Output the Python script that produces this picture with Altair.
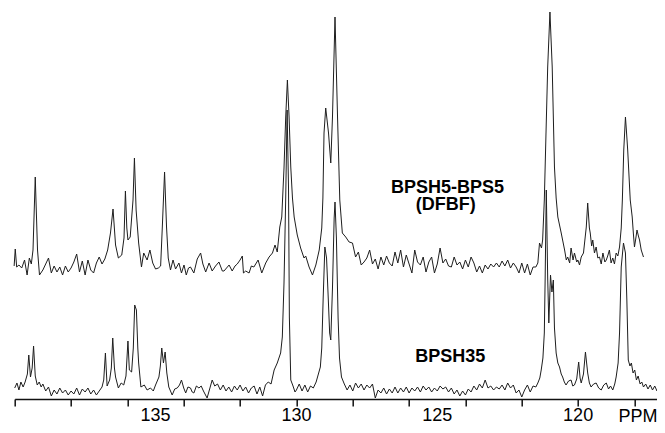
import altair as alt
import pandas as pd

# x-axis ticks (ppm) and the ones that carry a label
PPM_TICKS = list(range(118, 141))
LABELLED_TICKS = [135, 130, 125, 120]

# 13C spectrum of BPSH35 (ppm, intensity above its own baseline, a.u.)
BPSH35 = [
    (140.00, 0), (139.92, 5), (139.85, -2), (139.78, 6), (139.70, 1), (139.63, 6), (139.55, 14), (139.50, 33),
    (139.44, 11), (139.38, 20), (139.33, 42), (139.27, 12), (139.20, 3), (139.13, 6), (139.06, 1), (139.00, 4),
    (138.90, -3), (138.80, 1), (138.70, -8), (138.60, -2), (138.50, -6), (138.40, 0), (138.30, -5), (138.20, -2),
    (138.10, -7), (138.00, -3), (137.90, -6), (137.80, 0), (137.70, -7), (137.60, -1), (137.50, -4), (137.40, 0),
    (137.30, -6), (137.20, -2), (137.10, -7), (137.00, -3), (136.90, 1), (136.84, 8), (136.78, 35), (136.72, 2),
    (136.63, 8), (136.57, 20), (136.52, 50), (136.46, 20), (136.42, 11), (136.32, 0), (136.22, 5), (136.13, 3),
    (136.05, 12), (135.98, 47), (135.93, 18), (135.85, 16), (135.79, 40), (135.74, 83), (135.68, 78), (135.63, 40),
    (135.60, 25), (135.52, 1), (135.40, 3), (135.30, -2), (135.18, 0), (135.08, -3), (135.00, 3), (134.88, 11),
    (134.83, 22), (134.78, 40), (134.72, 25), (134.66, 36), (134.60, 15), (134.53, 1), (134.41, -7), (134.32, -1),
    (134.23, 0), (134.15, 3), (134.08, 8), (134.00, 0), (133.93, -5), (133.85, 1), (133.76, 0), (133.70, -4),
    (133.64, -5), (133.55, 2), (133.46, 0), (133.38, 2), (133.30, -3), (133.17, -10), (133.08, -1), (132.99, 8),
    (132.90, 2), (132.80, 4), (132.70, -2), (132.60, 3), (132.50, -3), (132.40, 1), (132.30, -4), (132.20, 2),
    (132.10, -2), (132.00, 3), (131.90, -3), (131.80, 1), (131.70, -5), (131.60, 0), (131.50, 2), (131.40, -6),
    (131.30, 1), (131.20, -8), (131.10, 3), (131.00, 6), (130.90, 4), (130.79, 18), (130.68, 25), (130.56, 35),
    (130.50, 51), (130.44, 105), (130.38, 190), (130.33, 278), (130.28, 200), (130.25, 71), (130.20, 8), (130.12, 2),
    (130.05, -4), (130.00, -2), (129.90, 4), (129.80, -3), (129.70, 3), (129.60, -4), (129.50, 2), (129.40, 0),
    (129.30, 6), (129.22, 14), (129.15, 21), (129.10, 40), (129.05, 90), (128.99, 141), (128.93, 130), (128.87, 90),
    (128.82, 55), (128.78, 48), (128.72, 100), (128.66, 170), (128.63, 186), (128.58, 150), (128.52, 70), (128.47, 30),
    (128.40, 11), (128.30, 4), (128.20, -2), (128.10, 3), (128.00, -3), (127.90, 5), (127.80, 0), (127.70, 4),
    (127.60, -2), (127.50, 3), (127.40, 0), (127.30, 4), (127.20, -10), (127.10, -2), (127.00, -5), (126.90, 0),
    (126.80, -6), (126.70, -1), (126.60, -5), (126.50, 1), (126.40, -5), (126.30, 0), (126.20, -4), (126.10, 1),
    (126.00, -5), (125.90, 0), (125.80, -3), (125.70, 1), (125.60, -4), (125.50, 2), (125.40, -2), (125.30, 1),
    (125.20, -4), (125.10, 0), (125.00, -3), (124.90, 2), (124.80, -1), (124.70, 1), (124.60, -4), (124.50, 0),
    (124.40, -6), (124.30, -2), (124.20, -8), (124.10, -3), (124.00, -7), (123.90, -1), (123.80, -4), (123.70, 2),
    (123.60, -2), (123.50, 4), (123.40, 0), (123.30, 8), (123.20, 0), (123.10, 2), (123.00, -2), (122.90, 1),
    (122.80, -1), (122.70, 3), (122.60, -2), (122.50, 5), (122.40, 0), (122.30, 3), (122.20, -5), (122.10, -2),
    (122.00, -9), (121.90, -2), (121.80, 3), (121.70, -4), (121.60, 2), (121.50, 1), (121.43, 5), (121.36, 10),
    (121.31, 18), (121.25, 30), (121.20, 55), (121.17, 110), (121.13, 198), (121.08, 110), (121.04, 65), (120.98, 113),
    (120.93, 96), (120.88, 108), (120.84, 60), (120.78, 35), (120.72, 25), (120.66, 21), (120.60, 14), (120.55, 11),
    (120.49, 6), (120.43, 3), (120.34, 7), (120.25, 8), (120.19, 2), (120.13, 3), (120.05, 9), (119.98, 26),
    (119.93, 10), (119.89, 5), (119.81, 14), (119.74, 36), (119.66, 15), (119.60, 5), (119.54, 1), (119.45, 4),
    (119.36, 5), (119.27, 0), (119.18, -2), (119.09, 3), (119.00, 5), (118.92, -1), (118.85, 2), (118.77, -2),
    (118.70, 4), (118.65, 11), (118.58, 25), (118.53, 55), (118.47, 121), (118.39, 145), (118.32, 135), (118.27, 88),
    (118.22, 28), (118.16, 22), (118.11, 25), (118.05, 15), (117.99, 18), (117.93, 8), (117.87, 12), (117.80, 4),
    (117.74, 6), (117.68, 1), (117.60, 4), (117.52, -1), (117.44, 3), (117.36, -2), (117.28, 2), (117.20, -3),
    (117.12, 2), (117.05, -2), (117.00, 0),
]

# 13C spectrum of BPSH5-BPS5 (DFBF) (ppm, intensity above its own baseline, a.u.)
BPSH5_BPS5 = [
    (140.02, 2), (139.98, 19), (139.93, 1), (139.85, 3), (139.75, 0), (139.65, 8), (139.56, -7), (139.48, 10),
    (139.41, 4), (139.35, 18), (139.27, 91), (139.19, 18), (139.12, -7), (139.00, -2), (138.90, 4), (138.80, 10),
    (138.70, -5), (138.60, 2), (138.50, -4), (138.40, 1), (138.30, -7), (138.20, 2), (138.10, -4), (138.00, 0),
    (137.90, 6), (137.80, 14), (137.70, -4), (137.60, 7), (137.50, -7), (137.40, 8), (137.30, -2), (137.20, -5),
    (137.10, 5), (137.00, 11), (136.90, 4), (136.80, 9), (136.70, 18), (136.60, 35), (136.51, 59), (136.42, 23),
    (136.32, 10), (136.20, 13), (136.12, 30), (136.07, 77), (136.02, 40), (135.98, 28), (135.90, 31), (135.80, 68),
    (135.75, 110), (135.69, 58), (135.60, 25), (135.50, 1), (135.42, 15), (135.30, 8), (135.20, 18), (135.10, 5),
    (135.00, -1), (134.90, 0), (134.82, 2), (134.76, 41), (134.68, 96), (134.61, 41), (134.55, 10), (134.47, -2),
    (134.38, 8), (134.29, -1), (134.17, 5), (134.08, -5), (133.99, 3), (133.91, -7), (133.83, 0), (133.76, 1),
    (133.64, -5), (133.52, 9), (133.40, 15), (133.32, 4), (133.22, -4), (133.10, 5), (132.99, -3), (132.87, 2),
    (132.75, 6), (132.63, -3), (132.57, -3), (132.45, 1), (132.39, 3), (132.28, -3), (132.18, 2), (132.10, 4),
    (132.00, 8), (131.92, 12), (131.88, -5), (131.80, -3), (131.68, -5), (131.60, 2), (131.51, 1), (131.36, 8),
    (131.23, -5), (131.09, 5), (130.97, 11), (130.85, 15), (130.76, 23), (130.68, 16), (130.59, 41), (130.52, 51),
    (130.44, 100), (130.38, 151), (130.32, 188), (130.26, 151), (130.20, 101), (130.14, 70), (130.08, 51), (129.97, 33),
    (129.85, 20), (129.73, 10), (129.67, 12), (129.55, 1), (129.43, -7), (129.31, 3), (129.19, 18), (129.10, 40),
    (129.06, 70), (129.02, 135), (128.96, 160), (128.86, 135), (128.78, 105), (128.72, 151), (128.63, 251), (128.54, 151),
    (128.46, 68), (128.37, 35), (128.25, 31), (128.13, 26), (128.01, 25), (127.90, 11), (127.80, 16), (127.70, 3),
    (127.60, 6), (127.50, 10), (127.40, 18), (127.30, 4), (127.20, 9), (127.10, -1), (127.00, 11), (126.90, 3),
    (126.80, 12), (126.70, 5), (126.60, 2), (126.50, 16), (126.40, 5), (126.30, 18), (126.20, 1), (126.10, 13),
    (126.00, 4), (125.90, -5), (125.80, 18), (125.70, 6), (125.60, 3), (125.50, 11), (125.40, -4), (125.30, 6),
    (125.20, 11), (125.10, -5), (125.00, 4), (124.90, 20), (124.80, 5), (124.70, 9), (124.60, 2), (124.50, 1),
    (124.40, 11), (124.30, 3), (124.20, 6), (124.10, -1), (124.00, 8), (123.90, 1), (123.80, 11), (123.70, 5),
    (123.60, -4), (123.50, 2), (123.40, -5), (123.30, 3), (123.20, -1), (123.10, 4), (123.00, 1), (122.90, 5),
    (122.80, 1), (122.70, 7), (122.60, 2), (122.50, 8), (122.40, 0), (122.30, 5), (122.20, 1), (122.10, -5),
    (122.00, 5), (121.90, -5), (121.80, 4), (121.70, -7), (121.60, 1), (121.50, 1), (121.43, 5), (121.37, 25),
    (121.30, 20), (121.26, 28), (121.20, 68), (121.14, 135), (121.08, 201), (121.00, 256), (120.92, 201), (120.84, 101),
    (120.78, 70), (120.72, 51), (120.60, 35), (120.48, 18), (120.42, 8), (120.37, 11), (120.30, 5), (120.25, 20),
    (120.18, 8), (120.13, 15), (120.05, 6), (120.01, 8), (119.95, 3), (119.89, 11), (119.81, 15), (119.71, 41),
    (119.66, 65), (119.60, 40), (119.57, 35), (119.52, 22), (119.48, 28), (119.42, 15), (119.36, 21), (119.30, 10),
    (119.24, 11), (119.18, 4), (119.12, 15), (119.05, 6), (119.00, 8), (118.95, 12), (118.89, 18), (118.83, 5),
    (118.77, 10), (118.71, 4), (118.65, 15), (118.59, 12), (118.53, 21), (118.47, 40), (118.43, 68), (118.38, 118),
    (118.32, 151), (118.28, 135), (118.24, 118), (118.15, 68), (118.08, 51), (118.04, 35), (118.00, 21), (117.95, 30),
    (117.91, 38), (117.86, 32), (117.82, 28), (117.76, 18), (117.68, 11),
]

# vertical offsets of the two stacked traces (a.u.)
OFFSETS = {"BPSH35": 11, "BPSH5-BPS5": 131}

# trace labels
LABEL_TEXT = ["BPSH5-BPS5", "(DFBF)", "BPSH35"]
LABEL_PPM = [124.64, 124.70, 124.54]
LABEL_LEVEL = [206, 189, 37]

rows = []
for name, pts in (("BPSH35", BPSH35), ("BPSH5-BPS5", BPSH5_BPS5)):
    for i, (p, v) in enumerate(pts):
        rows.append({"series": name, "ppm": p, "y": v + OFFSETS[name], "idx": i})
spec = pd.DataFrame(rows)

labels = pd.DataFrame({"text": LABEL_TEXT, "ppm": LABEL_PPM, "y": LABEL_LEVEL})
tick_labels = pd.DataFrame({"ppm": LABELLED_TICKS, "text": [str(v) for v in LABELLED_TICKS]})

FONT = "Liberation Sans"
W, H = 642.3, 391
LABEL_DROP = 22  # baseline of tick labels below the axis line

xscale = alt.Scale(domain=[117.2, 140], reverse=True, nice=False, zero=False)
yscale = alt.Scale(domain=[0, H], nice=False, zero=False)

xaxis = alt.Axis(
    values=PPM_TICKS,
    labels=False,
    grid=False,
    domainColor="#111",
    domainWidth=1.5,
    tickColor="#111",
    tickWidth=1.5,
    tickSize=7,
    title="PPM",
    titleFont=FONT,
    titleFontSize=18,
    titleFontWeight="normal",
    titleColor="#000",
    titleX=W,
    titleY=LABEL_DROP,
    titleAlign="right",
    titleAnchor="end",
    titleBaseline="alphabetic",
)

lines = alt.Chart(spec).mark_line(color="#1e1e1e", strokeWidth=1).encode(
    x=alt.X("ppm:Q", scale=xscale, axis=xaxis),
    y=alt.Y("y:Q", scale=yscale, axis=None),
    detail="series:N",
    order="idx:Q",
)

text = alt.Chart(labels).mark_text(
    font=FONT, fontSize=18, fontWeight="bold", color="#000", align="center", baseline="alphabetic"
).encode(
    x=alt.X("ppm:Q", scale=xscale),
    y=alt.Y("y:Q", scale=yscale),
    text="text:N",
)

ticktext = alt.Chart(tick_labels).mark_text(
    font=FONT, fontSize=18, color="#000", align="center", baseline="alphabetic"
).encode(
    x=alt.X("ppm:Q", scale=xscale),
    y=alt.value(H + LABEL_DROP),
    text="text:N",
)

chart = (
    alt.layer(lines, text, ticktext)
    .properties(
        width=W,
        height=H,
        padding={"left": 6.7, "top": 0, "right": 0, "bottom": 26},
        autosize=alt.AutoSizeParams(type="none"),
    )
    .configure_view(strokeWidth=0)
)

chart.save("out.html", embed_options={"renderer": "svg", "actions": False})
